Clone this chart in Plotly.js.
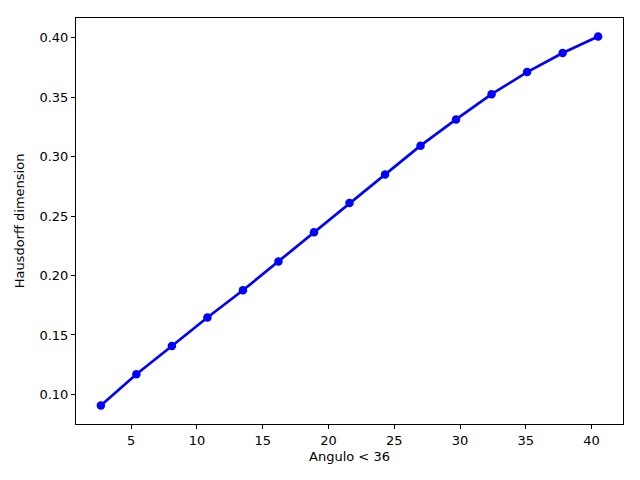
<!DOCTYPE html>
<html>
<head>
<meta charset="utf-8">
<script src="https://cdn.plot.ly/plotly-3.0.1.min.js"></script>
<style>
  html, body { margin: 0; padding: 0; background: #fff; }
  #graph { width: 640px; height: 480px; }
</style>
</head>
<body>
<div id="graph"></div>
<script>
// angle values (x) and Hausdorff dimension
var angulo = [2.7, 5.4, 8.1, 10.8, 13.5, 16.2, 18.9, 21.6, 24.3, 27.0, 29.7, 32.4, 35.1, 37.8, 40.5];
var hausdorff = [0.0906, 0.1169, 0.1407, 0.1647, 0.1876, 0.2119, 0.2364, 0.2610,
                 0.2850, 0.3093, 0.3314, 0.3526, 0.3712, 0.3873, 0.4012];

var xLabel = "Angulo < 36";
var yLabel = "Hausdorff dimension";

// matplotlib style 5% padding around the data
function padded(arr) {
    var lo = Math.min.apply(null, arr), hi = Math.max.apply(null, arr);
    var m = (hi - lo) * 0.05;
    return [lo - m, hi + m];
}

function drawGraph() {
    var trace = {
        x: angulo,
        y: hausdorff,
        type: "scatter",
        mode: "lines+markers",
        line: { color: "#0000ff", width: 2.7 },
        marker: { color: "#0000ff", size: 8.5 },
        hoverinfo: "none"
    };

    var axisStyle = {
        showline: true,
        mirror: true,
        linecolor: "#000",
        linewidth: 1,
        showgrid: false,
        zeroline: false,
        ticks: "outside",
        ticklen: 4,
        tickwidth: 1,
        tickcolor: "#000",
        tickfont: { family: "DejaVu Sans", size: 13, color: "#000" }
    };

    var layout = {
        width: 640,
        height: 480,
        margin: { l: 76, r: 17, t: 18, b: 56 },
        paper_bgcolor: "#fff",
        plot_bgcolor: "#fff",
        showlegend: false,
        xaxis: Object.assign({}, axisStyle, {
            range: padded(angulo),
            tick0: 0,
            dtick: 5,
            title: { text: xLabel, font: { family: "DejaVu Sans", size: 13, color: "#000" }, standoff: 5 }
        }),
        yaxis: Object.assign({}, axisStyle, {
            range: padded(hausdorff),
            tick0: 0,
            dtick: 0.05,
            tickformat: ".2f",
            title: { text: yLabel, font: { family: "DejaVu Sans", size: 13, color: "#000" }, standoff: 11 }
        })
    };

    Plotly.newPlot("graph", [trace], layout, { displayModeBar: false, staticPlot: true });
}

drawGraph();
</script>
</body>
</html>
